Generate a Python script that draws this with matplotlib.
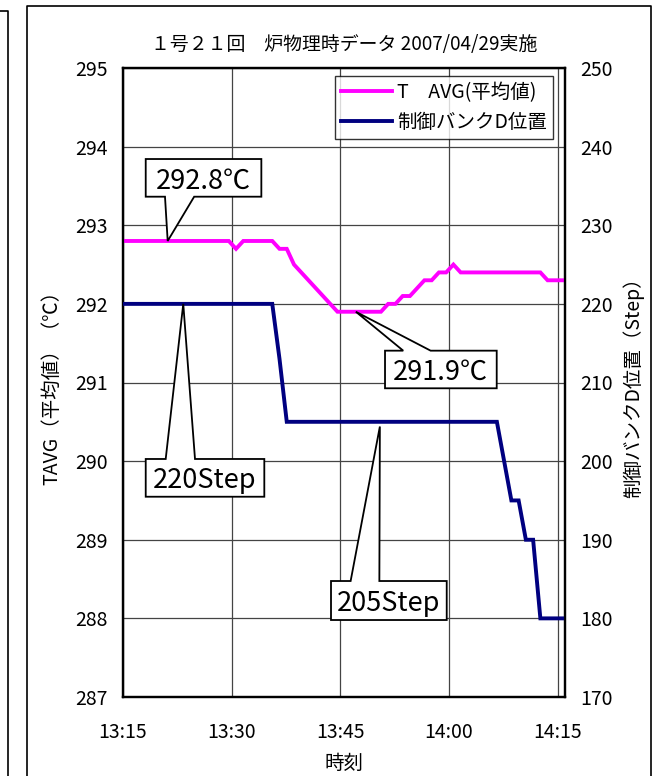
import matplotlib
matplotlib.use("Agg")
import matplotlib.pyplot as plt
import matplotlib.dates as mdates
import pandas as pd
from matplotlib.patches import Polygon
from matplotlib.lines import Line2D

plt.rcParams['font.family'] = ['Noto Sans CJK JP', 'DejaVu Sans']

# ---------------- data ----------------
DATE = "2007-04-29 "
title = "１号２１回　炉物理時データ 2007/04/29実施"
xlabel = "時刻"
ylabel_left = "TAVG（平均値）（℃）"
ylabel_right = "制御バンクD位置（Step）"
legend_labels = ["T　AVG(平均値)", "制御バンクD位置"]

tavg_times = ["13:14:36", "13:29:36", "13:30:36", "13:31:36", "13:35:36", "13:36:36",
              "13:37:36", "13:38:36", "13:44:36", "13:50:36", "13:51:36", "13:52:36",
              "13:53:36", "13:54:36", "13:56:36", "13:57:36", "13:58:36", "13:59:36",
              "14:00:36", "14:01:36", "14:12:36", "14:13:36", "14:15:36"]
tavg_values = [292.8, 292.8, 292.7, 292.8, 292.8, 292.7,
               292.7, 292.5, 291.9, 291.9, 292.0, 292.0,
               292.1, 292.1, 292.3, 292.3, 292.4, 292.4,
               292.5, 292.4, 292.4, 292.3, 292.3]

bank_times = ["13:14:36", "13:35:36", "13:36:36", "13:37:36", "14:06:36", "14:08:36",
              "14:09:36", "14:10:36", "14:11:36", "14:12:36", "14:15:36"]
bank_values = [220, 220, 213, 205, 205, 195, 195, 190, 190, 180, 180]

x_start, x_end = "13:15", "14:16"
x_ticks = ["13:15", "13:30", "13:45", "14:00", "14:15"]
left_ticks = [287, 288, 289, 290, 291, 292, 293, 294, 295]
right_ticks = [170, 180, 190, 200, 210, 220, 230, 240, 250]

# callouts: text, anchor time, anchor value, axis ('L'/'R')
callout_texts = ["292.8℃", "291.9℃", "220Step", "205Step"]
callout_times = ["13:21:10", "13:47:08", "13:23:19", "13:50:27"]
callout_values = [292.8, 291.9, 220, 204.4]
callout_axis = ["L", "L", "R", "R"]

# ---------------- figure ----------------
W, H = 655, 776
fig = plt.figure(figsize=(W / 100, H / 100), dpi=100)
ax = fig.add_axes([123 / W, 1 - 697 / H, 442 / W, 629 / H])
ax2 = ax.twinx()

def tparse(t):
    return pd.to_datetime(DATE + t).to_pydatetime()

tx = [tparse(t) for t in tavg_times]
bx = [tparse(t) for t in bank_times]

FS = 14
ax.plot(tx, tavg_values, color="#FF00FF", lw=2.8, solid_joinstyle="miter", zorder=3)
ax2.plot(bx, bank_values, color="#000080", lw=2.8, solid_joinstyle="miter", zorder=3)

ax.set_xlim(tparse(x_start), tparse(x_end))
ax.set_ylim(left_ticks[0], left_ticks[-1])
ax2.set_ylim(right_ticks[0], right_ticks[-1])
ax.set_yticks(left_ticks)
ax2.set_yticks(right_ticks)
ax.set_xticks([tparse(t) for t in x_ticks])
ax.xaxis.set_major_formatter(mdates.DateFormatter("%H:%M"))

ax.grid(True, color="#444444", lw=0.9, zorder=0)
ax.set_axisbelow(True)

ax.tick_params(axis="both", length=0, labelsize=FS)
ax.tick_params(axis="x", pad=18)
ax.tick_params(axis="y", pad=11)
ax2.tick_params(axis="y", length=0, labelsize=FS, pad=11)

for a in (ax, ax2):
    for s in a.spines.values():
        s.set_linewidth(1.6)
        s.set_color("black")

ax.set_title(title, fontsize=13.6, pad=13)
ax.set_xlabel(xlabel, fontsize=FS, labelpad=7)
ax.set_ylabel(ylabel_left, fontsize=FS, labelpad=9)
ax2.set_ylabel(ylabel_right, fontsize=FS, labelpad=7)

handles = [Line2D([], [], color="#FF00FF", lw=2.8), Line2D([], [], color="#000080", lw=2.8)]
leg = ax2.legend(handles, legend_labels, loc="upper right", bbox_to_anchor=(0.973, 0.987),
                 borderaxespad=0, fontsize=FS, frameon=True, fancybox=False,
                 handlelength=2.6, handletextpad=0.3, labelspacing=0.45, borderpad=0.3)
leg.get_frame().set_edgecolor("black")
leg.get_frame().set_linewidth(1.0)
leg.set_zorder(12)

# ---------------- callouts ----------------
boxes = [(0.0514, 0.313, 0.7954, 0.8553),
         (0.5928, 0.8455, 0.4908, 0.5506),
         (0.0514, 0.3197, 0.3184, 0.3784),
         (0.4706, 0.7324, 0.1224, 0.1844)]
bases = [(0.095, 0.161), (0.634, 0.696), (0.0966, 0.1629), (0.515, 0.580)]
sides = ["bottom", "top", "top", "top"]

inv = ax2.transAxes.inverted()
for text, t, v, which, box, base, side in zip(callout_texts, callout_times, callout_values,
                                              callout_axis, boxes, bases, sides):
    tr = ax.transData if which == "L" else ax2.transData
    px, py = inv.transform(tr.transform((mdates.date2num(tparse(t)), v)))
    x0, x1, y0, y1 = box
    b0, b1 = base
    if side == "bottom":
        verts = [(x0, y1), (x1, y1), (x1, y0), (b1, y0), (px, py), (b0, y0), (x0, y0)]
    else:
        verts = [(x0, y0), (x0, y1), (b0, y1), (px, py), (b1, y1), (x1, y1), (x1, y0)]
    ax2.add_patch(Polygon(verts, closed=True, transform=ax2.transAxes, fc="white",
                          ec="black", lw=1.3, zorder=10, clip_on=False))
    ax2.text((x0 + x1) / 2, (y0 + y1) / 2, text, transform=ax2.transAxes, ha="center",
             va="center_baseline", fontsize=19.5, zorder=11)

# ---------------- chart-area frames ----------------
fx = lambda p: p / W
fy = lambda p: 1 - p / H
fig.add_artist(Line2D([fx(27), fx(27), fx(651), fx(651)], [fy(800), fy(6), fy(6), fy(800)],
                      color="black", lw=1.2, transform=fig.transFigure))
fig.add_artist(Line2D([fx(-5), fx(8), fx(8)], [fy(11), fy(11), fy(800)],
                      color="black", lw=1.2, transform=fig.transFigure))

fig.savefig("out.png", dpi=100)
